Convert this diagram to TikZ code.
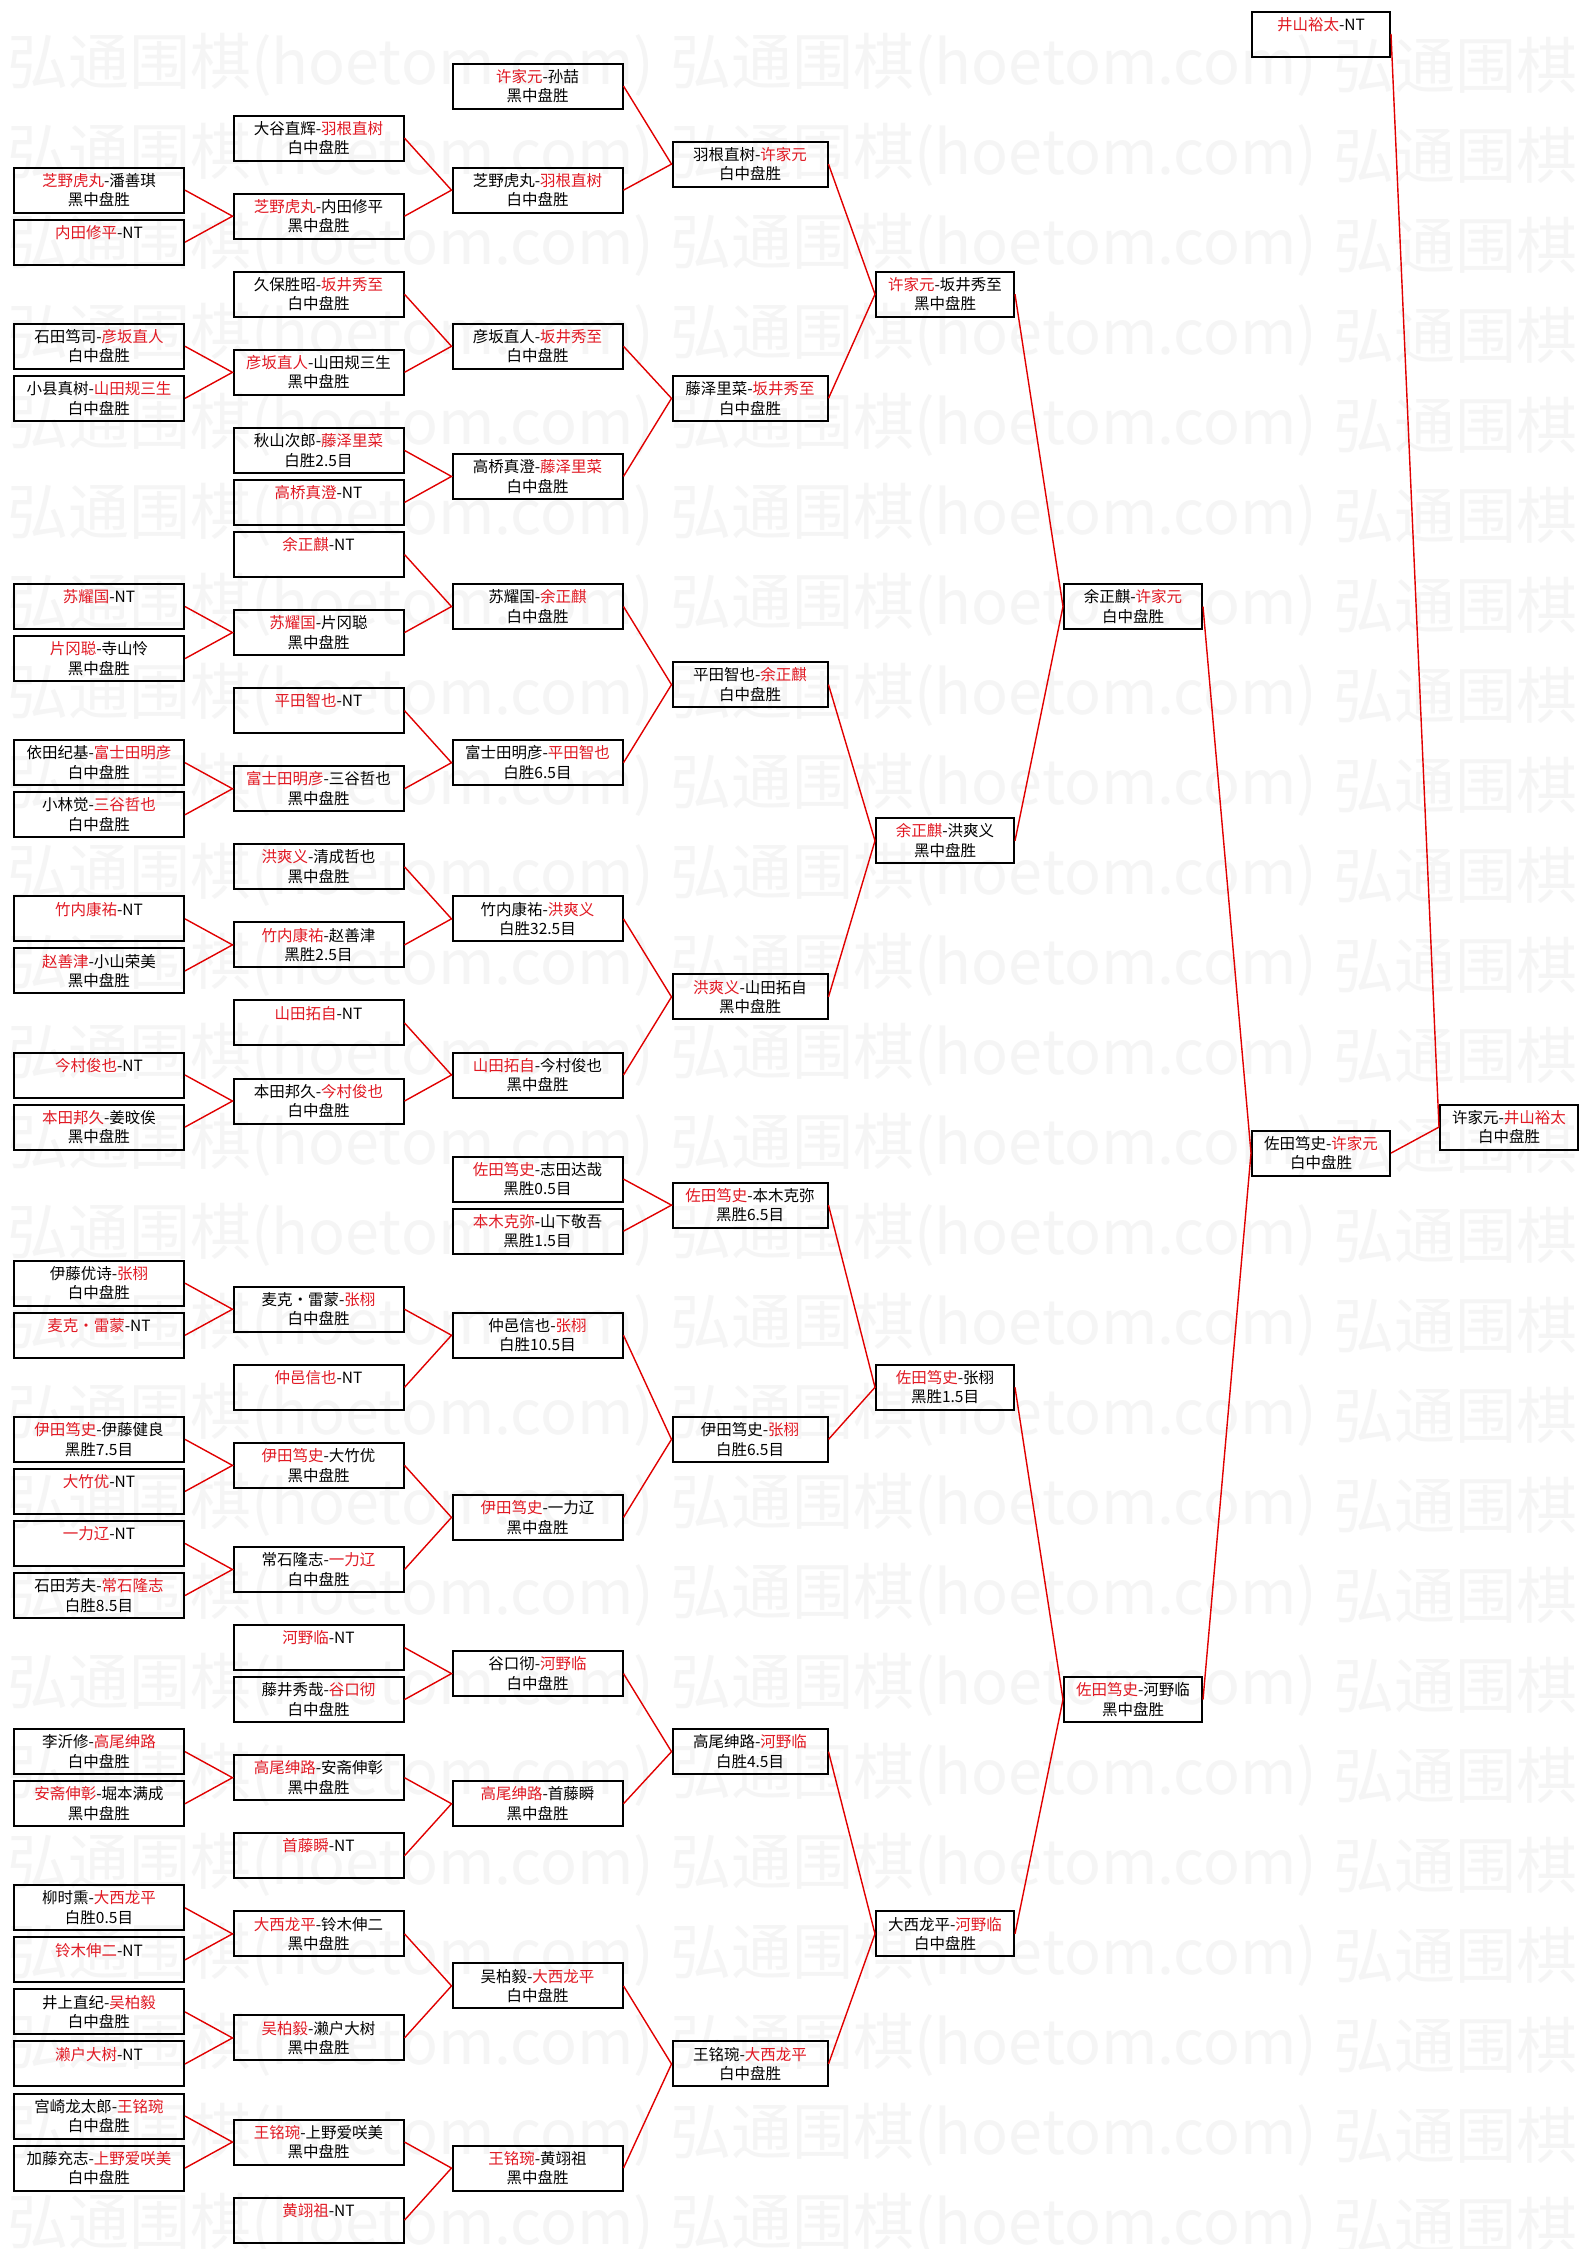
\documentclass[tikz,border=0pt]{standalone}
\usepackage{fontspec}
\setmainfont{Noto Sans CJK SC}
\definecolor{winred}{RGB}{225,25,35}
\definecolor{linkred}{RGB}{225,0,0}
\newcommand{\boxfont}{\fontsize{15.5pt}{19.5pt}\selectfont}
\newcommand{\markfont}{\fontsize{61pt}{61pt}\selectfont}
\newcommand{\gs}{\rule[-2.5pt]{0pt}{16.8pt}}
\newcommand{\winner}[1]{\textcolor{winred}{#1}}
\newcommand{\duel}[2]{\gs#1\\\gs#2}

\begin{document}
\begin{tikzpicture}[x=1pt,y=-52.05pt,
    gamebox/.style={draw, line width=2pt, minimum height=45pt, inner sep=0pt, align=center, font=\boxfont},
    boxw/.style={gamebox, minimum width=170pt},
    boxm/.style={gamebox, minimum width=155pt},
    boxn/.style={gamebox, minimum width=138pt},
    markstyle/.style={anchor=west, inner sep=0pt, text=black!4, font=\markfont},
    redline/.style={draw=linkred, line width=1.4pt}]
    \useasboundingbox (0,-0.65322) rectangle (1589,42.5552);
    \fill[white] (0,-0.65322) rectangle (1589,42.5552);

    % watermark
    \begin{scope}[y=-1pt, yshift=34pt]
    \foreach \k in {0,...,24} {
        \node[markstyle] at (7,{65+90*\k})   {弘通围棋(hoetom.com)};
        \node[markstyle] at (670,{65+90*\k}) {弘通围棋(hoetom.com)};
        \node[markstyle] at (1333,{65+90*\k}) {弘通围棋};
    }
    \end{scope}

    % round 1
    \node[boxw] (a1)  at (99,3)  {\duel{\winner{芝野虎丸}-潘善琪}{黑中盘胜}};
    \node[boxw] (a2)  at (99,4)  {\duel{\winner{内田修平}-NT}{}};
    \node[boxw] (a3)  at (99,6)  {\duel{石田笃司-\winner{彦坂直人}}{白中盘胜}};
    \node[boxw] (a4)  at (99,7)  {\duel{小县真树-\winner{山田规三生}}{白中盘胜}};
    \node[boxw] (a5)  at (99,11) {\duel{\winner{苏耀国}-NT}{}};
    \node[boxw] (a6)  at (99,12) {\duel{\winner{片冈聪}-寺山怜}{黑中盘胜}};
    \node[boxw] (a7)  at (99,14) {\duel{依田纪基-\winner{富士田明彦}}{白中盘胜}};
    \node[boxw] (a8)  at (99,15) {\duel{小林觉-\winner{三谷哲也}}{白中盘胜}};
    \node[boxw] (a9)  at (99,17) {\duel{\winner{竹内康祐}-NT}{}};
    \node[boxw] (a10) at (99,18) {\duel{\winner{赵善津}-小山荣美}{黑中盘胜}};
    \node[boxw] (a11) at (99,20) {\duel{\winner{今村俊也}-NT}{}};
    \node[boxw] (a12) at (99,21) {\duel{\winner{本田邦久}-姜旼俟}{黑中盘胜}};
    \node[boxw] (a13) at (99,24) {\duel{伊藤优诗-\winner{张栩}}{白中盘胜}};
    \node[boxw] (a14) at (99,25) {\duel{\winner{麦克・雷蒙}-NT}{}};
    \node[boxw] (a15) at (99,27) {\duel{\winner{伊田笃史}-伊藤健良}{黑胜7.5目}};
    \node[boxw] (a16) at (99,28) {\duel{\winner{大竹优}-NT}{}};
    \node[boxw] (a17) at (99,29) {\duel{\winner{一力辽}-NT}{}};
    \node[boxw] (a18) at (99,30) {\duel{石田芳夫-\winner{常石隆志}}{白胜8.5目}};
    \node[boxw] (a19) at (99,33) {\duel{李沂修-\winner{高尾绅路}}{白中盘胜}};
    \node[boxw] (a20) at (99,34) {\duel{\winner{安斋伸彰}-堀本满成}{黑中盘胜}};
    \node[boxw] (a21) at (99,36) {\duel{柳时熏-\winner{大西龙平}}{白胜0.5目}};
    \node[boxw] (a22) at (99,37) {\duel{\winner{铃木伸二}-NT}{}};
    \node[boxw] (a23) at (99,38) {\duel{井上直纪-\winner{吴柏毅}}{白中盘胜}};
    \node[boxw] (a24) at (99,39) {\duel{\winner{濑户大树}-NT}{}};
    \node[boxw] (a25) at (99,40) {\duel{宫崎龙太郎-\winner{王铭琬}}{白中盘胜}};
    \node[boxw] (a26) at (99,41) {\duel{加藤充志-\winner{上野爱咲美}}{白中盘胜}};

    % round 2
    \node[boxw] (b1)  at (318.5,2)    {\duel{大谷直辉-\winner{羽根直树}}{白中盘胜}};
    \node[boxw] (b2)  at (318.5,3.5)  {\duel{\winner{芝野虎丸}-内田修平}{黑中盘胜}};
    \node[boxw] (b3)  at (318.5,5)    {\duel{久保胜昭-\winner{坂井秀至}}{白中盘胜}};
    \node[boxw] (b4)  at (318.5,6.5)  {\duel{\winner{彦坂直人}-山田规三生}{黑中盘胜}};
    \node[boxw] (b5)  at (318.5,8)    {\duel{秋山次郎-\winner{藤泽里菜}}{白胜2.5目}};
    \node[boxw] (b6)  at (318.5,9)    {\duel{\winner{高桥真澄}-NT}{}};
    \node[boxw] (b7)  at (318.5,10)   {\duel{\winner{余正麒}-NT}{}};
    \node[boxw] (b8)  at (318.5,11.5) {\duel{\winner{苏耀国}-片冈聪}{黑中盘胜}};
    \node[boxw] (b9)  at (318.5,13)   {\duel{\winner{平田智也}-NT}{}};
    \node[boxw] (b10) at (318.5,14.5) {\duel{\winner{富士田明彦}-三谷哲也}{黑中盘胜}};
    \node[boxw] (b11) at (318.5,16)   {\duel{\winner{洪爽义}-清成哲也}{黑中盘胜}};
    \node[boxw] (b12) at (318.5,17.5) {\duel{\winner{竹内康祐}-赵善津}{黑胜2.5目}};
    \node[boxw] (b13) at (318.5,19)   {\duel{\winner{山田拓自}-NT}{}};
    \node[boxw] (b14) at (318.5,20.5) {\duel{本田邦久-\winner{今村俊也}}{白中盘胜}};
    \node[boxw] (b15) at (318.5,24.5) {\duel{麦克・雷蒙-\winner{张栩}}{白中盘胜}};
    \node[boxw] (b16) at (318.5,26)   {\duel{\winner{仲邑信也}-NT}{}};
    \node[boxw] (b17) at (318.5,27.5) {\duel{\winner{伊田笃史}-大竹优}{黑中盘胜}};
    \node[boxw] (b18) at (318.5,29.5) {\duel{常石隆志-\winner{一力辽}}{白中盘胜}};
    \node[boxw] (b19) at (318.5,31)   {\duel{\winner{河野临}-NT}{}};
    \node[boxw] (b20) at (318.5,32)   {\duel{藤井秀哉-\winner{谷口彻}}{白中盘胜}};
    \node[boxw] (b21) at (318.5,33.5) {\duel{\winner{高尾绅路}-安斋伸彰}{黑中盘胜}};
    \node[boxw] (b22) at (318.5,35)   {\duel{\winner{首藤瞬}-NT}{}};
    \node[boxw] (b23) at (318.5,36.5) {\duel{\winner{大西龙平}-铃木伸二}{黑中盘胜}};
    \node[boxw] (b24) at (318.5,38.5) {\duel{\winner{吴柏毅}-濑户大树}{黑中盘胜}};
    \node[boxw] (b25) at (318.5,40.5) {\duel{\winner{王铭琬}-上野爱咲美}{黑中盘胜}};
    \node[boxw] (b26) at (318.5,42)   {\duel{\winner{黄翊祖}-NT}{}};

    % round 3
    \node[boxw] (c1)  at (537.5,1)    {\duel{\winner{许家元}-孙喆}{黑中盘胜}};
    \node[boxw] (c2)  at (537.5,3)    {\duel{芝野虎丸-\winner{羽根直树}}{白中盘胜}};
    \node[boxw] (c3)  at (537.5,6)    {\duel{彦坂直人-\winner{坂井秀至}}{白中盘胜}};
    \node[boxw] (c4)  at (537.5,8.5)  {\duel{高桥真澄-\winner{藤泽里菜}}{白中盘胜}};
    \node[boxw] (c5)  at (537.5,11)   {\duel{苏耀国-\winner{余正麒}}{白中盘胜}};
    \node[boxw] (c6)  at (537.5,14)   {\duel{富士田明彦-\winner{平田智也}}{白胜6.5目}};
    \node[boxw] (c7)  at (537.5,17)   {\duel{竹内康祐-\winner{洪爽义}}{白胜32.5目}};
    \node[boxw] (c8)  at (537.5,20)   {\duel{\winner{山田拓自}-今村俊也}{黑中盘胜}};
    \node[boxw] (c9)  at (537.5,22)   {\duel{\winner{佐田笃史}-志田达哉}{黑胜0.5目}};
    \node[boxw] (c10) at (537.5,23)   {\duel{\winner{本木克弥}-山下敬吾}{黑胜1.5目}};
    \node[boxw] (c11) at (537.5,25)   {\duel{仲邑信也-\winner{张栩}}{白胜10.5目}};
    \node[boxw] (c12) at (537.5,28.5) {\duel{\winner{伊田笃史}-一力辽}{黑中盘胜}};
    \node[boxw] (c13) at (537.5,31.5) {\duel{谷口彻-\winner{河野临}}{白中盘胜}};
    \node[boxw] (c14) at (537.5,34)   {\duel{\winner{高尾绅路}-首藤瞬}{黑中盘胜}};
    \node[boxw] (c15) at (537.5,37.5) {\duel{吴柏毅-\winner{大西龙平}}{白中盘胜}};
    \node[boxw] (c16) at (537.5,41)   {\duel{\winner{王铭琬}-黄翊祖}{黑中盘胜}};

    % round 4
    \node[boxm] (d1) at (750,2.5)  {\duel{羽根直树-\winner{许家元}}{白中盘胜}};
    \node[boxm] (d2) at (750,7)    {\duel{藤泽里菜-\winner{坂井秀至}}{白中盘胜}};
    \node[boxm] (d3) at (750,12.5) {\duel{平田智也-\winner{余正麒}}{白中盘胜}};
    \node[boxm] (d4) at (750,18.5) {\duel{\winner{洪爽义}-山田拓自}{黑中盘胜}};
    \node[boxm] (d5) at (750,22.5) {\duel{\winner{佐田笃史}-本木克弥}{黑胜6.5目}};
    \node[boxm] (d6) at (750,27)   {\duel{伊田笃史-\winner{张栩}}{白胜6.5目}};
    \node[boxm] (d7) at (750,33)   {\duel{高尾绅路-\winner{河野临}}{白胜4.5目}};
    \node[boxm] (d8) at (750,39)   {\duel{王铭琬-\winner{大西龙平}}{白中盘胜}};

    % round 5 to final
    \node[boxn] (e1) at (945,5)     {\duel{\winner{许家元}-坂井秀至}{黑中盘胜}};
    \node[boxn] (e2) at (945,15.5)  {\duel{\winner{余正麒}-洪爽义}{黑中盘胜}};
    \node[boxn] (e3) at (945,26)    {\duel{\winner{佐田笃史}-张栩}{黑胜1.5目}};
    \node[boxn] (e4) at (945,36.5)  {\duel{大西龙平-\winner{河野临}}{白中盘胜}};
    \node[boxn] (f1) at (1133,11)   {\duel{余正麒-\winner{许家元}}{白中盘胜}};
    \node[boxn] (f2) at (1133,32)   {\duel{\winner{佐田笃史}-河野临}{黑中盘胜}};
    \node[boxn] (g1) at (1321,0)    {\duel{\winner{井山裕太}-NT}{}};
    \node[boxn] (g2) at (1321,21.5) {\duel{佐田笃史-\winner{许家元}}{白中盘胜}};
    \node[boxn] (h1) at (1509,21)   {\duel{许家元-\winner{井山裕太}}{白中盘胜}};

    % connectors
    \foreach \u/\v/\w in {a1/a2/b2, a3/a4/b4, a5/a6/b8, a7/a8/b10, a9/a10/b12,
        a11/a12/b14, a13/a14/b15, a15/a16/b17, a17/a18/b18, a19/a20/b21,
        a21/a22/b23, a23/a24/b24, a25/a26/b25,
        b1/b2/c2, b3/b4/c3, b5/b6/c4, b7/b8/c5, b9/b10/c6, b11/b12/c7,
        b13/b14/c8, b15/b16/c11, b17/b18/c12, b19/b20/c13, b21/b22/c14,
        b23/b24/c15, b25/b26/c16,
        c1/c2/d1, c3/c4/d2, c5/c6/d3, c7/c8/d4, c9/c10/d5, c11/c12/d6,
        c13/c14/d7, c15/c16/d8,
        d1/d2/e1, d3/d4/e2, d5/d6/e3, d7/d8/e4,
        e1/e2/f1, e3/e4/f2, f1/f2/g2, g1/g2/h1}
        \draw[redline] (\u.east) -- (\w.west) -- (\v.east);
\end{tikzpicture}
\end{document}
